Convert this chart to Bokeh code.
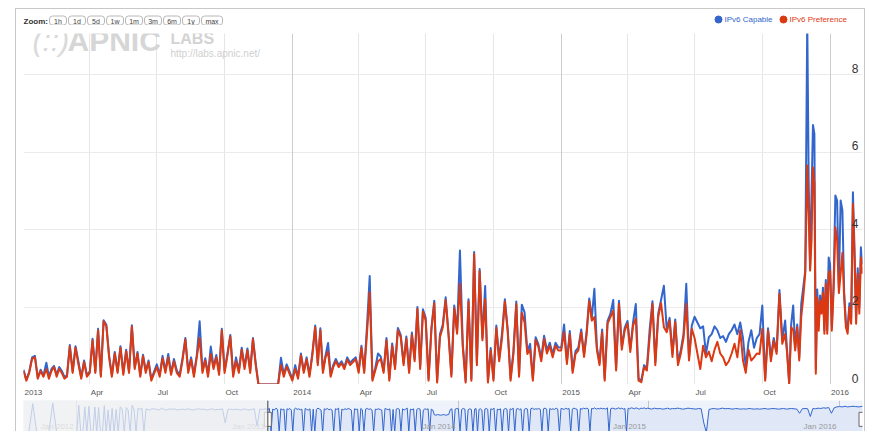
import numpy as np
import pandas as pd
from bokeh.plotting import figure
from bokeh.layouts import column
from bokeh.models import (Range1d, FixedTicker, Grid, Label, BoxAnnotation, Span)
from bokeh.core.properties import value
from bokeh.embed import file_html
from bokeh.resources import INLINE

# ---------------- data (per year, one list per month) ----------------
main_years = [2013, 2014, 2015, 2016]
END_DAY = 14  # last day of data in Feb 2016

pref_2013 = [
    [0.35, 0.1, 0.3, 0.66, 0.7, 0.15, 0.35, 0.2],
    [0.4, 0.15, 0.35, 0.45, 0.2, 0.4, 0.3, 0.15],
    [0.2, 0.98, 0.3, 0.95, 0.53, 0.15, 0.58, 0.2],
    [0.3, 1.14, 0.3, 1.4, 0.2, 1.63, 1.5, 0.7],
    [0.2, 0.8, 0.3, 0.95, 0.25, 0.86, 0.3, 1.5],
    [0.4, 0.8, 0.2, 0.73, 0.3, 0.58, 0.1, 0.28],
    [0.45, 0.2, 0.68, 0.3, 0.7, 0.25, 0.6, 0.3],
    [0.2, 0.62, 1.16, 0.3, 0.64, 0.2, 0.7, 1.2],
    [0.3, 0.62, 0.2, 0.79, 0.4, 0.7, 0.25, 1.4],
    [0.3, 0.75, 1.24, 0.2, 0.6, 0.3, 0.9, 0.4],
    [0.88, 0.3, 1.17, 0.5, 0.0, 0.0, 0.0, 0.0],
    [0.0, 0.0, 0.0, 0.0, 0.5, 0.2, 0.46, 0.28],
]
cap_2013 = [
    [0.38, 0.12, 0.33, 0.7, 0.74, 0.18, 0.38, 0.23],
    [0.56, 0.2, 0.4, 0.48, 0.25, 0.45, 0.35, 0.2],
    [0.23, 1.02, 0.34, 0.99, 0.6, 0.18, 0.62, 0.24],
    [0.34, 1.18, 0.34, 1.44, 0.24, 1.66, 1.54, 0.74],
    [0.24, 0.84, 0.34, 0.99, 0.3, 0.9, 0.34, 1.53],
    [0.45, 0.84, 0.24, 0.77, 0.35, 0.62, 0.14, 0.33],
    [0.52, 0.25, 0.74, 0.36, 0.79, 0.3, 0.66, 0.36],
    [0.25, 0.68, 1.2, 0.36, 0.7, 0.26, 0.76, 1.63],
    [0.36, 0.68, 0.26, 0.98, 0.46, 0.76, 0.3, 1.44],
    [0.36, 0.8, 1.28, 0.26, 0.7, 0.36, 0.95, 0.46],
    [0.93, 0.36, 1.2, 0.55, 0.0, 0.0, 0.0, 0.0],
    [0.0, 0.0, 0.0, 0.0, 0.69, 0.26, 0.52, 0.34],
]
pref_2014 = [
    [0.1, 0.4, 0.15, 0.75, 0.3, 0.65, 0.2, 0.75],
    [1.48, 0.5, 1.4, 0.3, 0.7, 0.85, 0.2, 0.45],
    [0.6, 0.45, 0.55, 0.4, 0.64, 0.5, 0.58, 0.65],
    [0.3, 0.95, 0.3, 1.3, 2.38, 0.1, 0.36, 0.6],
    [0.66, 0.3, 1.14, 0.1, 1.0, 0.4, 1.4, 1.22],
    [0.5, 1.18, 0.3, 1.28, 0.6, 1.95, 0.4, 1.88],
    [1.65, 0.1, 1.4, 2.1, 0.05, 1.22, 1.48, 2.18],
    [1.27, 0.2, 1.97, 1.31, 2.6, 0.97, 0.05, 2.14],
    [0.1, 3.37, 0.5, 2.92, 1.14, 2.2, 0.05, 0.88],
    [0.1, 1.46, 0.6, 1.2, 2.14, 1.35, 0.1, 0.79],
    [2.08, 0.2, 1.85, 1.6, 0.79, 0.9, 0.1, 1.15],
    [0.97, 0.6, 1.18, 0.8, 1.0, 0.7, 1.0, 0.88],
]
cap_2014 = [
    [0.14, 0.5, 0.2, 0.8, 0.35, 0.7, 0.25, 0.8],
    [1.52, 0.55, 1.45, 0.35, 0.75, 1.07, 0.25, 0.5],
    [0.66, 0.5, 0.6, 0.45, 0.7, 0.56, 0.64, 0.7],
    [0.35, 1.0, 0.35, 1.48, 2.8, 0.15, 0.42, 0.8],
    [0.72, 0.35, 1.2, 0.15, 1.06, 0.46, 1.46, 1.28],
    [0.56, 1.24, 0.36, 1.34, 0.66, 2.0, 0.46, 1.94],
    [1.72, 0.15, 1.46, 2.16, 0.1, 1.3, 1.55, 2.25],
    [1.33, 0.26, 2.04, 1.38, 3.46, 1.03, 0.1, 2.2],
    [0.15, 3.42, 0.56, 2.98, 1.2, 2.54, 0.1, 0.94],
    [0.15, 1.52, 0.66, 1.33, 2.2, 1.42, 0.16, 0.86],
    [2.14, 0.26, 2.06, 1.86, 0.86, 1.05, 0.16, 1.22],
    [1.04, 0.68, 1.26, 0.88, 1.08, 0.78, 1.08, 0.96],
]
pref_2015 = [
    [0.88, 1.35, 0.53, 1.3, 0.3, 0.79, 0.88, 1.35],
    [0.71, 1.3, 2.15, 1.65, 1.74, 0.88, 0.5, 1.35],
    [0.1, 1.57, 1.74, 1.9, 0.36, 2.08, 0.9, 1.39],
    [1.57, 0.84, 1.52, 1.7, 0.1, 0.06, 0.45, 0.36],
    [1.2, 2.08, 0.5, 1.74, 2.1, 1.48, 1.35, 1.65],
    [0.71, 1.61, 0.5, 0.79, 1.2, 2.08, 0.62, 1.44],
    [1.2, 0.8, 0.4, 1.0, 0.7, 0.85, 0.6, 0.9],
    [1.1, 0.8, 0.7, 0.5, 0.6, 0.8, 1.05, 0.7],
    [1.4, 0.62, 0.3, 0.9, 0.62, 0.7, 0.8, 0.79],
    [1.44, 0.1, 1.39, 0.6, 1.13, 0.79, 2.34, 1.05],
    [1.3, 0.79, 0.02, 1.48, 1.4, 0.88, 1.48, 0.62, 1.74, 2.24, 2.86],
    [5.65, 4.4, 2.94, 3.72, 5.6, 5.18, 0.28, 2.25, 1.39, 2.17, 1.83, 2.36, 1.31, 2.6, 1.31, 2.86],
]
cap_2015 = [
    [0.95, 1.55, 0.6, 1.38, 0.36, 0.86, 0.95, 1.42],
    [0.78, 1.38, 2.22, 1.72, 2.47, 0.95, 0.56, 1.42],
    [0.15, 1.64, 1.82, 2.18, 0.42, 2.16, 0.98, 1.46],
    [1.64, 0.92, 1.6, 2.08, 0.15, 0.1, 0.5, 0.42],
    [1.41, 2.15, 0.58, 1.82, 2.18, 2.55, 1.42, 1.72],
    [0.8, 1.68, 0.58, 0.88, 1.3, 2.6, 0.7, 1.52],
    [1.75, 1.6, 1.45, 1.5, 0.8, 1.22, 1.3, 1.5],
    [1.4, 1.2, 1.25, 1.1, 1.3, 1.4, 1.55, 1.3],
    [1.6, 1.2, 0.45, 1.1, 1.4, 0.95, 1.2, 1.3],
    [2.04, 0.15, 1.45, 0.7, 1.2, 0.85, 2.44, 1.15],
    [1.65, 0.85, 0.05, 1.55, 2.04, 0.95, 1.55, 0.7, 2.08, 2.5, 2.94],
    [9.4, 5.26, 3.0, 4.92, 6.7, 6.47, 0.4, 2.45, 1.5, 2.3, 1.9, 2.5, 1.4, 2.7, 1.4, 3.28],
]
pref_2016 = [
    [2.94, 1.39, 2.43, 4.06, 3.72, 2.36, 2.86, 3.4, 2.25, 1.48, 1.31, 1.99, 1.57],
    [4.66, 3.28, 1.57, 2.86, 1.83, 3.28, 2.86],
]
cap_2016 = [
    [3.1, 1.5, 2.6, 4.88, 4.75, 2.5, 4.75, 4.5, 2.4, 1.6, 1.45, 2.1, 1.7],
    [4.96, 3.5, 1.7, 3.0, 2.0, 3.54, 3.1],
]

# navigator series (full history, 0..1 of navigator height)
nav_years = [2011, 2012, 2013, 2014, 2015, 2016]
NAV_FIRST_MONTH, NAV_FIRST_DAY = 9, 21
nav_2011 = [[0, 0], [0, 0.9, 0, 0], [0, 0, 0.92, 0], [0, 0, 0, 0]]
nav_2012 = [
    [0, 0.85, 0, 0, 0.8, 0, 0.82, 0], [0, 0.8, 0, 0.78, 0, 0, 0.84, 0],
    [0.7, 0, 0.75, 0, 0.72, 0, 0.8, 0.74], [0, 0.78, 0.7, 0, 0.85, 0.72, 0, 0.76],
    [0.72, 0.76, 0, 0.74, 0.72, 0.7, 0.75, 0.73], [0.73, 0.7, 0.76, 0.72, 0.7, 0.74],
    [0.72, 0.74, 0.7, 0.72, 0.73, 0.71], [0.74, 0.72, 0.7, 0.73, 0.74, 0.72],
    [0.73, 0.7, 0.72, 0.74, 0.71, 0.72], [0.72, 0.74, 0.3, 0.72, 0.73, 0.71],
    [0.73, 0.72, 0.7, 0.74, 0.72, 0.7], [0.72, 0.74, 0.2, 0.73, 0.72, 0.74],
]
nav_2013 = [
    [0.72, 0.75, 0, 0.73, 0.7, 0.76, 0.72, 0, 0.74, 0.71],
    [0.73, 0, 0.74, 0.72, 0.75, 0.7, 0, 0.73, 0.76, 0.72],
    [0.74, 0.71, 0.73, 0, 0.75, 0.72, 0.7, 0.74, 0, 0.73],
    [0, 0.72, 0.76, 0.73, 0.7, 0, 0.74, 0.72, 0.75, 0.71],
    [0.73, 0.7, 0, 0.74, 0.72, 0.76, 0, 0.73, 0.71, 0.74],
    [0.72, 0.75, 0.73, 0.7, 0, 0.74, 0.72, 0.73, 0, 0.75],
    [0.71, 0, 0.73, 0.75, 0.72, 0.74, 0.7, 0, 0.73, 0.72],
    [0.74, 0.72, 0.7, 0, 0.75, 0.73, 0.71, 0.74, 0, 0.72],
    [0, 0.73, 0.75, 0.72, 0, 0.74, 0.7, 0.73, 0.76, 0],
    [0.73, 0.71, 0.74, 0, 0.72, 0.75, 0.73, 0, 0.7, 0.74],
    [0.72, 0.74, 0, 0.73, 0.7, 0.55, 0.54, 0.56, 0.55, 0.54],
    [0.55, 0.56, 0.54, 0.55, 0.56, 0.72, 0.74, 0, 0.73, 0.75],
]
nav_2014 = [
    [0.74, 0, 0.72, 0.75, 0.73, 0, 0.71, 0.74, 0.72, 0],
    [0.73, 0.75, 0, 0.72, 0.74, 0.7, 0, 0.73, 0.75, 0.72],
    [0, 0.74, 0.72, 0.76, 0, 0.73, 0.71, 0.74, 0, 0.72],
    [0.75, 0.73, 0, 0.74, 0.72, 0.76, 0, 0.73, 0.75, 0.71],
    [0.74, 0, 0.72, 0.75, 0.73, 0, 0.74, 0.76, 0.72, 0.74],
    [0.73, 0.75, 0.72, 0, 0.74, 0.76, 0.73, 0, 0.75, 0.72],
    [0.74, 0.72, 0.76, 0.73, 0, 0.75, 0.74, 0.72, 0.76, 0.73],
    [0.75, 0, 0.73, 0.76, 0.74, 0.72, 0, 0.75, 0.73, 0.76],
    [0.74, 0.76, 0.73, 0, 0.75, 0.74, 0.77, 0.73, 0.75, 0.74],
    [0.76, 0.74, 0.75, 0.73, 0.77, 0, 0.74, 0.76, 0.75, 0.73],
    [0.75, 0.77, 0.74, 0.76, 0.73, 0.75, 0, 0.76, 0.74, 0.77],
    [0.76, 0.74, 0.77, 0.75, 0.73, 0.76, 0.75, 0.77, 0.74, 0.76],
]
nav_2015 = [
    [0.75, 0.73, 0.76, 0.74, 0.75, 0.73], [0.74, 0.76, 0.73, 0.75, 0.74, 0.76],
    [0.75, 0.73, 0.74, 0.76, 0.75, 0.74], [0.73, 0.75, 0.74, 0.3, 0, 0.72],
    [0.74, 0.75, 0.73, 0.74, 0.76, 0.74], [0.75, 0.74, 0.73, 0.75, 0.74, 0.73],
    [0.74, 0.73, 0.75, 0.74, 0.73, 0.74], [0.73, 0.74, 0.75, 0.73, 0.74, 0.75],
    [0.74, 0.73, 0.74, 0.75, 0.73, 0.74], [0.75, 0.74, 0.73, 0.6, 0.74, 0.75],
    [0.74, 0.5, 0.75, 0.74, 0.76, 0.75], [0.77, 0.76, 0.78, 0.6, 0.77, 0.8],
]
nav_2016 = [[0.81, 0.8, 0.82, 0.8, 0.81, 0.82], [0.81, 0.8, 0.82]]

x_ticks = ["2013-01-01", "2013-04-01", "2013-07-01", "2013-10-01",
           "2014-01-01", "2014-04-01", "2014-07-01", "2014-10-01",
           "2015-01-01", "2015-04-01", "2015-07-01", "2015-10-01", "2016-01-01"]
x_tick_labels = ["2013", "Apr", "Jul", "Oct", "2014", "Apr", "Jul", "Oct",
                 "2015", "Apr", "Jul", "Oct", "2016"]
year_ticks = ["2013-01-01", "2014-01-01", "2015-01-01", "2016-01-01"]
nav_year_ticks = ["2012-01-01", "2013-01-01", "2014-01-01", "2015-01-01", "2016-01-01"]
nav_year_labels = ["Jan 2012", "Jan 2013", "Jan 2014", "Jan 2015", "Jan 2016"]
y_ticks = [0, 2, 4, 6, 8]
zoom_buttons = ["1h", "1d", "5d", "1w", "1m", "3m", "6m", "1y", "max"]
series_names = ["IPv6 Capable", "IPv6 Preference"]
BLUE, RED = "#3366cc", "#dc3912"
FONT = "Liberation Sans"


def ms(s):
    return pd.Timestamp(s).value / 1e6


def spread(year, month, n, first_day=1, last_day=None):
    start = pd.Timestamp(year, month, first_day)
    if last_day is None:
        end = pd.Timestamp(year, month, 1) + pd.offsets.MonthBegin(1)
        return [start + (end - start) * (k / n) for k in range(n)]
    end = pd.Timestamp(year, month, last_day)
    return [start + (end - start) * (k / (n - 1)) for k in range(n)]


def build(years, by_year, first_month=1, first_day=1):
    xs, ys = [], []
    for yi, (yr, months) in enumerate(zip(years, by_year)):
        m0 = first_month if yi == 0 else 1
        for mi, vals in enumerate(months):
            fd = first_day if (yi == 0 and mi == 0) else 1
            ld = END_DAY if (yi == len(years) - 1 and mi == len(months) - 1) else None
            xs += spread(yr, m0 + mi, len(vals), fd, ld)
            ys += vals
    return pd.to_datetime(xs), ys


dates, pref = build(main_years, [pref_2013, pref_2014, pref_2015, pref_2016])
_, cap = build(main_years, [cap_2013, cap_2014, cap_2015, cap_2016])
nav_dates, nav_vals = build(nav_years, [nav_2011, nav_2012, nav_2013, nav_2014, nav_2015, nav_2016],
                            NAV_FIRST_MONTH, NAV_FIRST_DAY)

x_start = pd.Timestamp("2013-01-01")
x_end = pd.Timestamp(2016, 2, END_DAY)
nav_start = pd.Timestamp(2011, NAV_FIRST_MONTH, NAV_FIRST_DAY)

W = 848
BL, BR = 7, 2
FW = W - BL - BR


def bare(fig):
    fig.axis.visible = False
    fig.grid.visible = False
    fig.outline_line_color = None
    return fig


# ---------------- header (zoom buttons + legend) ----------------
h = bare(figure(width=W, height=16, x_range=Range1d(0, FW), y_range=Range1d(0, 16),
                output_backend="svg", toolbar_location=None,
                min_border_left=BL, min_border_right=BR, min_border_top=0, min_border_bottom=0))
h.text(x=[0], y=[4.5], text=["Zoom:"], text_font=value(FONT), text_font_size="8px",
       text_font_style="bold", text_color="#333333", text_baseline="middle")
bx = 26
for t in zoom_buttons:
    w = 9 + 4 * len(t)
    h.quad(left=bx, right=bx + w, top=9.5, bottom=0.5, fill_color="white",
           line_color="#b8b8b8", line_width=1, border_radius=3)
    h.text(x=[bx + w / 2], y=[4.5], text=[t], text_font=value(FONT), text_font_size="7px",
           text_color="#444444", text_align="center", text_baseline="middle")
    bx += w + 2
leg_x = [695, 760]
for lx, name, col in zip(leg_x, series_names, [BLUE, RED]):
    h.scatter(x=[lx], y=[6], size=7, color=col)
    h.text(x=[lx + 6], y=[6], text=[name], text_font=value(FONT), text_font_size="8px",
           text_color=col, text_baseline="middle")

# ---------------- main chart ----------------
p = figure(width=W, height=359, x_axis_type="datetime",
           x_range=Range1d(x_start.to_pydatetime(), x_end.to_pydatetime()),
           y_range=Range1d(0, 9.06), output_backend="svg", toolbar_location=None,
           min_border_left=BL, min_border_right=BR, min_border_top=8, min_border_bottom=0)
p.outline_line_color = None
p.axis.visible = False
p.ygrid.ticker = FixedTicker(ticks=y_ticks)
p.ygrid.grid_line_color = "#ebebeb"
p.xgrid.ticker = FixedTicker(ticks=[ms(t) for t in x_ticks])
p.xgrid.grid_line_color = "#e6e6e6"
p.add_layout(Grid(dimension=0, ticker=FixedTicker(ticks=[ms(t) for t in year_ticks]),
                  grid_line_color="#cccccc"))

# watermark
p.add_layout(Label(x=9, y=328, x_units="screen", y_units="screen", text="(::)", text_font=FONT,
                   text_font_size="30px", text_font_style="italic", text_color="#dadada"))
p.add_layout(Label(x=44, y=328, x_units="screen", y_units="screen", text="APNIC", text_font=FONT,
                   text_font_size="30px", text_font_style="bold", text_color="#d6d6d6"))
p.add_layout(Label(x=147, y=338, x_units="screen", y_units="screen", text="LABS", text_font=FONT,
                   text_font_size="16px", text_font_style="bold", text_color="#d3d3d3"))
p.add_layout(Label(x=147, y=326, x_units="screen", y_units="screen", text="http://labs.apnic.net/",
                   text_font=FONT, text_font_size="10px", text_color="#cfcfcf"))

p.line(dates, cap, color=BLUE, line_width=2, line_join="round")
p.line(dates, pref, color=RED, line_width=2, line_join="round")

p.text(x=[ms(x_end)] * len(y_ticks), y=y_ticks, text=[str(v) for v in y_ticks],
       text_font=value(FONT), text_font_size="12px", text_color="#333333",
       text_align="right", text_baseline="bottom", x_offset=-4, y_offset=-2)

# ---------------- x tick labels strip ----------------
xl = bare(figure(width=W, height=16, x_axis_type="datetime", x_range=p.x_range,
                 y_range=Range1d(0, 16), output_backend="svg", toolbar_location=None,
                 min_border_left=BL, min_border_right=BR, min_border_top=0, min_border_bottom=0))
xl.text(x=[ms(t) for t in x_ticks], y=[8] * len(x_ticks), text=x_tick_labels,
        text_font=value(FONT), text_font_size="8px", text_color="#555555",
        text_align="left", text_baseline="middle", x_offset=1)

# ---------------- navigator ----------------
n = figure(width=W, height=31, x_axis_type="datetime",
           x_range=Range1d(nav_start.to_pydatetime(), x_end.to_pydatetime()),
           y_range=Range1d(0.03, 1.0), output_backend="svg", toolbar_location=None,
           min_border_left=BL, min_border_right=BR, min_border_top=0, min_border_bottom=0)
n.axis.visible = False
n.outline_line_color = None
n.background_fill_color = "#eef2fa"
n.ygrid.visible = False
n.xgrid.ticker = FixedTicker(ticks=[ms(t) for t in nav_year_ticks])
n.xgrid.grid_line_color = "#c4c4c4"
n.varea(x=nav_dates, y1=0, y2=nav_vals, fill_color="#e0e8f8")
n.line(nav_dates, nav_vals, color=BLUE, line_width=1)
n.add_layout(BoxAnnotation(right=ms(x_start), fill_color="#f2f2f2", fill_alpha=0.75,
                           line_color=None))
n.text(x=[ms(t) for t in nav_year_ticks], y=[0.03] * len(nav_year_ticks), text=nav_year_labels,
       text_font=value(FONT), text_font_size="8px", text_color="#999999",
       text_align="right", text_baseline="bottom", x_offset=-3, y_offset=-1)
n.add_layout(Span(location=ms(x_start), dimension="height", line_color="#444444", line_width=1))
n.rect(x=[ms(x_start), ms(x_end)], y=[0.41, 0.41], width=7, height=14,
       width_units="screen", height_units="screen", fill_color="white", line_color="#666666")

layout = column(h, p, xl, n, spacing=0,
                styles={"margin-left": "15px", "margin-top": "8px",
                        "border-left": "1px solid #c8c8c8", "border-top": "1px solid #c8c8c8",
                        "border-right": "1px solid #c8c8c8"})

open("out.html", "w").write(file_html(layout, INLINE))
